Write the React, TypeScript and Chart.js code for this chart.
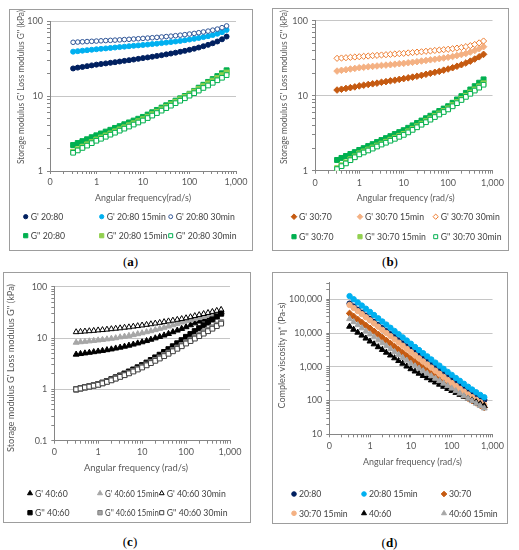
import React, { useEffect, useRef } from 'react';
import { Chart, registerables } from 'chart.js';

Chart.register(...registerables);

// Angular frequency (rad/s)
const FREQ = [0.314, 0.395, 0.498, 0.627, 0.789, 0.994, 1.25, 1.58, 1.99, 2.5, 3.15, 3.97, 5.0, 6.29, 7.92, 9.97, 12.6, 15.8, 19.9, 25.1, 31.6, 39.8, 50.1, 63.1, 79.4, 99.9, 126, 158, 199, 251, 316, 397, 500, 628];

// (a) 20:80, kPa
const G1_2080 = [23.3, 23.9, 24.4, 25.0, 25.6, 26.2, 26.7, 27.2, 27.7, 28.2, 28.8, 29.4, 30.0, 30.6, 31.3, 32.0, 32.7, 33.4, 34.2, 35.0, 35.9, 36.8, 37.8, 38.9, 40.0, 41.3, 42.7, 44.3, 46.1, 48.1, 50.5, 53.3, 57.0, 62.0];
const G1_2080_15 = [39.0, 39.6, 40.2, 40.8, 41.4, 42.0, 42.6, 43.1, 43.7, 44.3, 44.9, 45.5, 46.1, 46.7, 47.3, 47.9, 48.5, 49.2, 49.9, 50.7, 51.5, 52.4, 53.3, 54.3, 55.4, 56.6, 57.9, 59.4, 61.0, 62.8, 65.0, 67.6, 71.0, 76.0];
const G1_2080_30 = [52.0, 52.4, 52.8, 53.2, 53.6, 54.0, 54.4, 54.8, 55.2, 55.6, 56.0, 56.5, 57.0, 57.5, 58.0, 58.6, 59.2, 59.8, 60.5, 61.2, 62.0, 62.8, 63.7, 64.7, 65.8, 67.0, 68.3, 69.8, 71.4, 73.3, 75.5, 78.0, 81.5, 86.0];
const G2_2080 = [2.22, 2.36, 2.50, 2.65, 2.82, 2.99, 3.16, 3.35, 3.54, 3.75, 3.96, 4.20, 4.44, 4.70, 4.97, 5.26, 5.65, 6.07, 6.52, 7.00, 7.52, 8.07, 8.67, 9.31, 10.0, 10.7, 11.7, 12.9, 14.1, 15.4, 16.8, 18.4, 20.1, 22.0];
const G2_2080_15 = [1.81, 1.95, 2.10, 2.26, 2.43, 2.62, 2.79, 2.97, 3.16, 3.37, 3.58, 3.81, 4.06, 4.32, 4.60, 4.90, 5.28, 5.70, 6.15, 6.64, 7.16, 7.73, 8.34, 8.99, 9.70, 10.5, 11.4, 12.4, 13.5, 14.7, 16.0, 17.3, 18.9, 20.5];
const G2_2080_30 = [1.75, 1.88, 2.03, 2.18, 2.35, 2.53, 2.69, 2.86, 3.05, 3.24, 3.45, 3.67, 3.91, 4.16, 4.43, 4.71, 5.08, 5.48, 5.92, 6.38, 6.89, 7.43, 8.02, 8.65, 9.33, 10.1, 10.9, 11.8, 12.8, 13.8, 15.0, 16.2, 17.5, 19.0];

// (b) 30:70, kPa
const G1_3070 = [11.9, 12.2, 12.5, 12.8, 13.1, 13.5, 13.8, 14.1, 14.4, 14.7, 15.1, 15.4, 15.8, 16.1, 16.5, 16.9, 17.3, 17.7, 18.2, 18.7, 19.3, 19.9, 20.5, 21.1, 21.9, 22.7, 23.6, 24.7, 25.9, 27.3, 28.9, 30.8, 33.0, 35.6];
const G1_3070_15 = [21.3, 21.8, 22.2, 22.7, 23.1, 23.6, 23.9, 24.3, 24.6, 24.9, 25.3, 25.6, 25.9, 26.3, 26.7, 27.0, 27.5, 27.9, 28.4, 29.0, 29.5, 30.1, 30.6, 31.2, 31.8, 32.5, 33.3, 34.3, 35.4, 36.6, 38.2, 40.0, 42.3, 45.0];
const G1_3070_30 = [31.5, 31.8, 32.1, 32.5, 32.8, 33.1, 33.5, 33.8, 34.2, 34.5, 34.9, 35.2, 35.6, 36.0, 36.4, 36.7, 37.2, 37.6, 38.1, 38.5, 39.1, 39.5, 40.1, 40.6, 41.1, 41.6, 42.3, 43.1, 44.0, 45.1, 46.5, 48.2, 50.6, 53.6];
const G2_3070 = [1.39, 1.48, 1.57, 1.67, 1.77, 1.89, 2.00, 2.13, 2.26, 2.41, 2.56, 2.72, 2.89, 3.08, 3.27, 3.47, 3.73, 4.02, 4.33, 4.66, 5.01, 5.40, 5.81, 6.25, 6.73, 7.24, 8.04, 8.91, 9.86, 10.9, 12.1, 13.4, 14.9, 16.5];
const G2_3070_15 = [1.08, 1.18, 1.29, 1.42, 1.55, 1.70, 1.80, 1.91, 2.03, 2.16, 2.29, 2.43, 2.58, 2.74, 2.91, 3.09, 3.34, 3.61, 3.91, 4.23, 4.57, 4.94, 5.35, 5.78, 6.25, 6.76, 7.45, 8.20, 9.04, 9.95, 11.0, 12.1, 13.3, 14.6];
const G2_3070_30 = [1.05, 1.15, 1.25, 1.38, 1.51, 1.65, 1.75, 1.86, 1.97, 2.10, 2.23, 2.36, 2.51, 2.66, 2.83, 3.00, 3.24, 3.50, 3.79, 4.10, 4.43, 4.79, 5.19, 5.61, 6.06, 6.56, 7.22, 7.95, 8.76, 9.64, 10.6, 11.7, 12.8, 14.0];

// (c) 40:60, kPa
const G1_4060 = [4.79, 4.92, 5.06, 5.20, 5.35, 5.50, 5.66, 5.85, 6.05, 6.30, 6.55, 6.84, 7.16, 7.52, 7.91, 8.34, 8.81, 9.35, 9.95, 10.6, 11.3, 12.1, 13.1, 14.1, 15.2, 16.4, 17.9, 19.5, 21.1, 23.0, 25.0, 27.2, 29.6, 32.1];
const G1_4060_15 = [8.18, 8.36, 8.53, 8.69, 8.87, 9.06, 9.27, 9.51, 9.77, 10.0, 10.4, 10.7, 11.1, 11.5, 12.0, 12.5, 13.1, 13.7, 14.4, 15.2, 16.0, 16.9, 17.9, 19.0, 20.2, 21.5, 22.5, 23.6, 24.7, 25.9, 27.2, 28.4, 29.9, 31.3];
const G1_4060_30 = [13.1, 13.3, 13.5, 13.7, 13.9, 14.2, 14.4, 14.7, 15.0, 15.3, 15.6, 16.0, 16.3, 16.8, 17.2, 17.7, 18.2, 18.7, 19.3, 19.9, 20.6, 21.3, 22.0, 22.8, 23.6, 24.5, 25.7, 27.0, 28.2, 29.6, 31.0, 32.5, 34.1, 35.7];
const G2_4060 = [1.00, 1.05, 1.10, 1.15, 1.20, 1.26, 1.35, 1.45, 1.57, 1.71, 1.86, 2.03, 2.22, 2.43, 2.68, 2.96, 3.31, 3.72, 4.18, 4.71, 5.33, 6.05, 6.89, 7.87, 9.06, 10.5, 11.9, 13.6, 15.5, 17.7, 20.1, 23.0, 26.2, 29.9];
const G2_4060_15 = [1.00, 1.04, 1.09, 1.14, 1.19, 1.24, 1.32, 1.42, 1.52, 1.64, 1.78, 1.92, 2.09, 2.28, 2.50, 2.75, 3.03, 3.36, 3.73, 4.15, 4.63, 5.17, 5.79, 6.49, 7.29, 8.23, 9.20, 10.3, 11.5, 12.9, 14.4, 16.1, 18.1, 20.3];
const G2_4060_30 = [1.00, 1.04, 1.09, 1.13, 1.18, 1.23, 1.31, 1.40, 1.50, 1.62, 1.75, 1.89, 2.05, 2.23, 2.44, 2.67, 2.94, 3.25, 3.60, 3.99, 4.44, 4.94, 5.52, 6.18, 6.93, 7.82, 8.73, 9.77, 10.9, 12.2, 13.6, 15.2, 17.1, 19.1];

// (d) complex viscosity, Pa·s
const ETA_2080 = [74500, 60800, 49200, 40100, 32700, 26500, 21500, 17300, 14000, 11400, 9230, 7480, 6070, 4920, 4000, 3250, 2630, 2150, 1750, 1420, 1160, 947, 774, 634, 519, 427, 351, 292, 242, 201, 168, 142, 121, 105];
const ETA_2080_15 = [124300, 100400, 80800, 65200, 52600, 42300, 34200, 27300, 22000, 17800, 14300, 11500, 9260, 7460, 6000, 4830, 3870, 3130, 2530, 2040, 1650, 1330, 1080, 872, 708, 577, 468, 384, 314, 257, 212, 176, 147, 125];
const ETA_3070 = [38200, 31100, 25300, 20600, 16800, 13800, 11200, 9050, 7340, 5970, 4870, 3950, 3220, 2610, 2120, 1730, 1400, 1150, 940, 768, 631, 518, 425, 349, 289, 239, 198, 166, 139, 117, 99, 85, 72, 62];
const ETA_3070_15 = [67900, 55300, 44700, 36300, 29300, 23800, 19200, 15400, 12400, 10000, 8060, 6480, 5210, 4200, 3390, 2730, 2200, 1780, 1440, 1170, 945, 766, 620, 503, 408, 332, 271, 223, 184, 151, 126, 105, 89, 75];
const ETA_4060 = [15600, 12700, 10400, 8500, 6950, 5680, 4690, 3860, 3200, 2650, 2190, 1810, 1500, 1250, 1030, 859, 734, 632, 542, 466, 401, 347, 299, 259, 224, 195, 171, 150, 132, 116, 102, 90, 79, 70];
const ETA_4060_15 = [26200, 21300, 17300, 14000, 11300, 9200, 7540, 6150, 5040, 4130, 3380, 2760, 2280, 1860, 1540, 1250, 1050, 893, 752, 632, 533, 449, 381, 321, 272, 230, 193, 163, 137, 115, 97, 82, 70, 59];

const LABELS_A = ["G' 20:80", "G' 20:80 15min", "G' 20:80 30min", "G'' 20:80", "G'' 20:80 15min", "G'' 20:80 30min"];
const LABELS_B = ["G' 30:70", "G' 30:70 15min", "G' 30:70 30min", "G'' 30:70", "G'' 30:70 15min", "G'' 30:70 30min"];
const LABELS_C = ["G' 40:60", "G' 40:60 15min", "G' 40:60 30min", "G'' 40:60", "G'' 40:60 15min", "G'' 40:60 30min"];
const LABELS_D = ['20:80', '20:80 15min', '30:70', '30:70 15min', '40:60', '40:60 15min'];

const X_TITLE_A = 'Angular frequency(rad/s)';
const X_TITLE = 'Angular frequency (rad/s)';
const Y_TITLE_G = "Storage modulus G' Loss modulus G'' (kPa)";
const Y_TITLE_ETA = 'Complex viscosity \u03b7* (Pa-s)';

const FONT = 'Lato, "Open Sans", sans-serif';

type Style = 'circle' | 'rect' | 'rectRot' | 'triangle';
interface Series { label: string; data: number[]; style: Style; fill: string; stroke: string; r: number; bw: number; lr: number; }

const mk = (label: string, data: number[], style: Style, fill: string, stroke: string, r: number, bw = 1, lr = r * 0.85): Series =>
  ({ label, data, style, fill, stroke, r, bw, lr });

const NAVY = '#002060', SKY = '#00b0f0', GREEN = '#00b050', LGREEN = '#92d050';
const ORANGE = '#c55a11', PEACH = '#f4b183', ORANGE2 = '#ed7d31', GRAY = '#a6a6a6';

interface Panel {
  id: string; box: number[]; plot: number[]; yMin: number; yMax: number;
  yTitle: string; yTitlePos: number[]; yTitleW: number; xTitle: string; xTitlePos: number[]; xTitleW: number;
  series: Series[]; cols: number[]; rows: number[]; labelPos: number[]; xPad: number;
}

const PANELS: Panel[] = [
  {
    id: 'a', box: [9, 9, 244, 242], plot: [50, 21, 236, 171], yMin: 1, yMax: 100,
    yTitle: Y_TITLE_G, yTitlePos: [20.5, 87], yTitleW: 154, xTitle: X_TITLE_A, xTitlePos: [143, 198.3], xTitleW: 96,
    series: [
      mk(LABELS_A[0], G1_2080, 'circle', NAVY, NAVY, 2.5),
      mk(LABELS_A[1], G1_2080_15, 'circle', SKY, SKY, 2.5),
      mk(LABELS_A[2], G1_2080_30, 'circle', '#ffffff', '#2f5597', 2.3),
      mk(LABELS_A[3], G2_2080, 'rect', GREEN, GREEN, 3.5),
      mk(LABELS_A[4], G2_2080_15, 'rect', LGREEN, LGREEN, 3.5),
      mk(LABELS_A[5], G2_2080_30, 'rect', '#ffffff', GREEN, 3.3),
    ],
    cols: [25.7, 101.7, 170.7], rows: [216.7, 235.7], labelPos: [130.5, 262], xPad: 3,
  },
  {
    id: 'b', box: [272, 8, 237, 243], plot: [315, 20.7, 496.7, 170.7], yMin: 1, yMax: 100,
    yTitle: Y_TITLE_G, yTitlePos: [284, 87], yTitleW: 154, xTitle: X_TITLE, xTitlePos: [405.7, 198.3], xTitleW: 98,
    series: [
      mk(LABELS_B[0], G1_3070, 'rectRot', ORANGE, ORANGE, 3.3),
      mk(LABELS_B[1], G1_3070_15, 'rectRot', PEACH, PEACH, 3.3),
      mk(LABELS_B[2], G1_3070_30, 'rectRot', '#ffffff', ORANGE2, 3.1),
      mk(LABELS_B[3], G2_3070, 'rect', GREEN, GREEN, 3.5),
      mk(LABELS_B[4], G2_3070_15, 'rect', LGREEN, LGREEN, 3.5),
      mk(LABELS_B[5], G2_3070_30, 'rect', '#ffffff', GREEN, 3.3),
    ],
    cols: [294, 360, 435.7], rows: [216.7, 236.7], labelPos: [390, 262], xPad: 4,
  },
  {
    id: 'c', box: [3, 272, 248, 251], plot: [54.3, 286.7, 230, 440.7], yMin: 0.1, yMax: 100,
    yTitle: Y_TITLE_G, yTitlePos: [11, 368], yTitleW: 168, xTitle: X_TITLE, xTitlePos: [136, 467.7], xTitleW: 104,
    series: [
      mk(LABELS_C[0], G1_4060, 'triangle', '#000000', '#000000', 3.4),
      mk(LABELS_C[1], G1_4060_15, 'triangle', GRAY, GRAY, 3.4),
      mk(LABELS_C[2], G1_4060_30, 'triangle', '#ffffff', '#000000', 3.3),
      mk(LABELS_C[3], G2_4060, 'rect', '#000000', '#000000', 3.6),
      mk(LABELS_C[4], G2_4060_15, 'rect', GRAY, '#7f7f7f', 3.6),
      mk(LABELS_C[5], G2_4060_30, 'rect', '#ffffff', '#404040', 3.4),
    ],
    cols: [30, 100, 161.7], rows: [493.3, 512.7], labelPos: [130, 542], xPad: 3,
  },
  {
    id: 'd', box: [272, 272, 236, 252], plot: [329.3, 280, 495, 434.3], yMin: 10, yMax: 316228,
    yTitle: Y_TITLE_ETA, yTitlePos: [281.7, 355.5], yTitleW: 106, xTitle: X_TITLE, xTitlePos: [412.5, 462.3], xTitleW: 99,
    series: [
      mk(LABELS_D[0], ETA_2080, 'circle', NAVY, NAVY, 2.7),
      mk(LABELS_D[1], ETA_2080_15, 'circle', SKY, SKY, 2.7),
      mk(LABELS_D[2], ETA_3070, 'rectRot', ORANGE, ORANGE, 3.3),
      mk(LABELS_D[3], ETA_3070_15, 'circle', PEACH, PEACH, 2.7),
      mk(LABELS_D[4], ETA_4060, 'triangle', '#000000', '#000000', 3.4),
      mk(LABELS_D[5], ETA_4060_15, 'triangle', GRAY, GRAY, 3.4),
    ],
    cols: [294, 364, 444], rows: [494, 513.3], labelPos: [389.5, 543], xPad: 3,
  },
];

const isMajor = (v: number) => {
  const l = Math.log10(v);
  return Math.abs(l - Math.round(l)) < 1e-6;
};

const logTicks = (min: number, max: number) => {
  const out: { value: number }[] = [];
  const e0 = Math.floor(Math.log10(min) + 1e-9);
  const e1 = Math.ceil(Math.log10(max) - 1e-9);
  for (let e = e0; e <= e1; e++) {
    for (let m = 1; m <= 9; m++) {
      const v = Number((m * Math.pow(10, e)).toPrecision(6));
      if (v >= min * 0.99999 && v <= max * 1.00001) out.push({ value: v });
    }
  }
  return out;
};

const fmtX = (v: number) => (v < 1 ? '0' : Math.round(v).toLocaleString('en-US'));
const fmtY = (v: number) => (v < 1 ? String(Number(v.toPrecision(3))) : Math.round(v).toLocaleString('en-US'));

function drawMarker(ctx: CanvasRenderingContext2D, s: Series, x: number, y: number) {
  const r = s.lr;
  ctx.beginPath();
  if (s.style === 'circle') {
    ctx.arc(x, y, r, 0, Math.PI * 2);
  } else if (s.style === 'rect') {
    const h = r * Math.SQRT1_2;
    ctx.rect(x - h, y - h, 2 * h, 2 * h);
  } else if (s.style === 'rectRot') {
    ctx.moveTo(x, y - r); ctx.lineTo(x + r, y); ctx.lineTo(x, y + r); ctx.lineTo(x - r, y); ctx.closePath();
  } else {
    ctx.moveTo(x, y - r);
    ctx.lineTo(x + r * 0.866, y + r * 0.5);
    ctx.lineTo(x - r * 0.866, y + r * 0.5);
    ctx.closePath();
  }
  ctx.fillStyle = s.fill;
  ctx.fill();
  ctx.lineWidth = s.bw;
  ctx.strokeStyle = s.stroke;
  ctx.stroke();
}

function fitText(ctx: CanvasRenderingContext2D, text: string, x: number, y: number, maxW: number) {
  const w = ctx.measureText(text).width;
  if (w > maxW) ctx.fillText(text, x, y, maxW);
  else ctx.fillText(text, x, y);
}

function PanelView({ cfg }: { cfg: Panel }) {
  const ref = useRef<HTMLCanvasElement>(null);
  const [bl, bt, bw, bh] = cfg.box;
  const cl = bl + 1, ct = bt + 1, cw = bw - 2, ch = bh - 2;

  useEffect(() => {
    if (!ref.current) return;
    const [pl, pt, pr, pb] = cfg.plot;
    const yWidth = pl - cl;
    const xHeight = 20;
    const padTop = pt - ct;
    const padRight = cl + cw - pr;
    const padBottom = ct + ch - pb - xHeight;

    const deco = {
      id: 'deco',
      afterDraw(chart: any) {
        const ctx: CanvasRenderingContext2D = chart.ctx;
        ctx.save();
        ctx.font = `9.5px ${FONT}`;
        ctx.fillStyle = '#595959';
        ctx.textAlign = 'center';
        ctx.textBaseline = 'middle';
        ctx.translate(cfg.yTitlePos[0] - cl, cfg.yTitlePos[1] - ct);
        ctx.rotate(-Math.PI / 2);
        fitText(ctx, cfg.yTitle, 0, 0, cfg.yTitleW);
        ctx.restore();

        ctx.save();
        ctx.font = `9.5px ${FONT}`;
        ctx.fillStyle = '#595959';
        ctx.textAlign = 'center';
        ctx.textBaseline = 'middle';
        fitText(ctx, cfg.xTitle, cfg.xTitlePos[0] - cl, cfg.xTitlePos[1] - ct, cfg.xTitleW);

        ctx.font = `8.7px ${FONT}`;
        cfg.series.forEach((s, i) => {
          const col = i % 3;
          const x = cfg.cols[col] - cl;
          const y = cfg.rows[Math.floor(i / 3)] - ct;
          drawMarker(ctx, s, x, y);
          ctx.fillStyle = '#404040';
          ctx.textAlign = 'left';
          const limit = col < 2 ? cfg.cols[col + 1] - cfg.cols[col] - 8 : cl + cw - cfg.cols[col] - 8;
          fitText(ctx, s.label, x + 5, y + 0.5, limit);
        });
        ctx.restore();
      },
    };

    const n = cfg.series.length;
    const chart = new Chart(ref.current, {
      type: 'scatter',
      data: {
        datasets: cfg.series.map((s, i) => ({
          label: s.label,
          data: FREQ.map((f, k) => ({ x: f, y: s.data[k] })),
          pointStyle: s.style,
          pointRadius: s.r,
          pointHoverRadius: s.r,
          pointBackgroundColor: s.fill,
          pointBorderColor: s.stroke,
          pointBorderWidth: s.bw,
          backgroundColor: s.fill,
          borderColor: s.stroke,
          showLine: false,
          order: n - i,
        })),
      },
      options: {
        animation: false,
        responsive: false,
        events: [],
        layout: { padding: { left: 0, top: padTop, right: padRight, bottom: padBottom } },
        plugins: { legend: { display: false }, tooltip: { enabled: false }, title: { display: false } },
        scales: {
          x: {
            type: 'logarithmic',
            position: 'bottom',
            min: 0.1,
            max: 1000,
            afterBuildTicks: (sc: any) => { sc.ticks = logTicks(0.1, 1000); },
            afterFit: (sc: any) => { sc.height = xHeight; },
            ticks: {
              autoSkip: false, maxRotation: 0, minRotation: 0, padding: cfg.xPad,
              color: '#595959', font: { family: FONT, size: 9 },
              callback: (v: any) => (isMajor(Number(v)) ? fmtX(Number(v)) : ''),
            },
            grid: { drawOnChartArea: false, drawTicks: true, tickLength: 3, tickColor: '#868686', tickWidth: 1 },
            border: { display: true, color: '#868686', width: 1 },
            title: { display: false },
          },
          y: {
            type: 'logarithmic',
            position: 'left',
            min: cfg.yMin,
            max: cfg.yMax,
            afterBuildTicks: (sc: any) => { sc.ticks = logTicks(cfg.yMin, cfg.yMax); },
            afterFit: (sc: any) => { sc.width = yWidth; },
            ticks: {
              autoSkip: false, padding: 4,
              color: '#595959', font: { family: FONT, size: 9 },
              callback: (v: any) => (isMajor(Number(v)) ? fmtY(Number(v)) : ''),
            },
            grid: {
              drawOnChartArea: true, drawTicks: true, tickLength: 3, tickColor: '#868686', tickWidth: 1,
              color: (c: any) => (c.tick && isMajor(c.tick.value) ? '#c6c6c6' : 'rgba(0,0,0,0)'),
              lineWidth: 1,
            },
            border: { display: true, color: '#868686', width: 1 },
            title: { display: false },
          },
        },
      } as any,
      plugins: [deco],
    });
    return () => chart.destroy();
  }, []);

  return (
    <>
      <div
        style={{
          position: 'absolute', left: bl, top: bt, width: bw, height: bh,
          boxSizing: 'border-box', border: '1px solid #9d9d9d', background: '#ffffff',
        }}
      >
        <canvas
          ref={ref}
          width={cw}
          height={ch}
          style={{ position: 'absolute', left: 0, top: 0, width: cw, height: ch }}
        />
      </div>
      <div
        style={{
          position: 'absolute', left: cfg.labelPos[0] - 20, top: cfg.labelPos[1] - 8, width: 40,
          textAlign: 'center', fontFamily: '"Liberation Serif", "DejaVu Serif", serif',
          fontSize: 13, lineHeight: '16px', color: '#000',
        }}
      >
        (<b>{cfg.id}</b>)
      </div>
    </>
  );
}

export default function App() {
  return (
    <div style={{ position: 'absolute', left: 0, top: 0, width: 519, height: 550, background: '#ffffff', overflow: 'hidden' }}>
      {PANELS.map((p) => (
        <PanelView key={p.id} cfg={p} />
      ))}
    </div>
  );
}
